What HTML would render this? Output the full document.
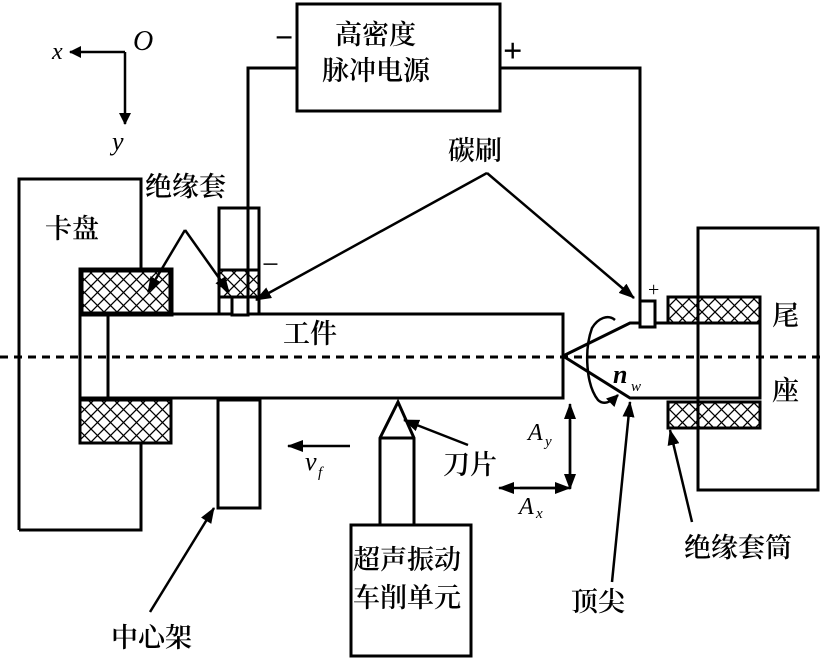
<!DOCTYPE html>
<html><head><meta charset="utf-8"><style>
body{margin:0;background:#fff}
svg text{font-family:"Liberation Serif","Noto Serif CJK SC","Noto Sans CJK SC",serif;fill:#000}
.c{font-size:27px;font-family:"Noto Serif CJK SC","WenQuanYi Zen Hei",serif;font-weight:600}
</style></head><body>
<svg width="820" height="662" viewBox="0 0 820 662" xmlns="http://www.w3.org/2000/svg">
<defs>
<pattern id="h" width="13" height="13" patternUnits="userSpaceOnUse">
<path d="M0 0L13 13M13 0L0 13" stroke="#000" stroke-width="1.3"/>
</pattern>
<marker id="a" markerWidth="12" markerHeight="12" refX="11" refY="6" orient="auto" markerUnits="userSpaceOnUse" viewBox="0 0 12 12">
<path d="M0 0L12 6L0 12z" fill="#000"/></marker>
<marker id="b" markerWidth="16" markerHeight="12" refX="15" refY="6" orient="auto" markerUnits="userSpaceOnUse" viewBox="0 0 16 12">
<path d="M0 0L16 6L0 12z" fill="#000"/></marker>
</defs>
<g fill="none" stroke="#000" stroke-width="3">
<path d="M19 530V179H141V268M141 443V530H19"/>
<rect x="81" y="270" width="90" height="44" fill="url(#h)" stroke-width="5"/>
<rect x="80" y="400" width="91" height="43" fill="url(#h)"/>
<path d="M171 314H563V398H80V314M108 314V398"/>
<path d="M219 314V208H259V314"/>
<rect x="219" y="270" width="40" height="27" fill="url(#h)"/>
<rect x="232" y="297" width="16" height="18" fill="#fff"/>
<rect x="218" y="400" width="42" height="108"/>
<path d="M248 297V68H297M500 68H640V301"/>
<rect x="297" y="4" width="203" height="107"/>
<rect x="698" y="228" width="120" height="262"/>
<rect x="668" y="297" width="92" height="26" fill="url(#h)"/>
<rect x="668" y="402" width="92" height="26" fill="url(#h)"/>
<path d="M563 356L630 323H760M563 356L630 398H698V323M760 323V398H698"/>
<rect x="640" y="301" width="15" height="26" fill="#fff"/>
<path d="M380 525V438L398 402L414 438V525M380 438H414"/>
<rect x="351" y="525" width="120" height="131"/>
</g>
<path d="M0 357H820" stroke="#000" stroke-width="3" stroke-dasharray="8,6"/>
<g fill="none" stroke="#000" stroke-width="2.5">
<path d="M125 52H70" marker-end="url(#a)"/>
<path d="M125 52V124" marker-end="url(#a)"/>
<path d="M185 230L148 292" marker-end="url(#b)"/>
<path d="M185 230L229 292" marker-end="url(#b)"/>
<path d="M487 173L256 300" marker-end="url(#b)"/>
<path d="M487 173L634 298" marker-end="url(#b)"/>
<path d="M468 445L404 420" marker-end="url(#b)"/>
<path d="M350 446H288" marker-end="url(#b)"/>
<path d="M570 488V404" marker-end="url(#b)"/>
<path d="M570 420V489" marker-end="url(#b)"/>
<path d="M560 488H499" marker-end="url(#b)"/>
<path d="M520 488H570" marker-end="url(#b)"/>
<path d="M150 612L214 508" marker-end="url(#b)"/>
<path d="M612 582L630 402" marker-end="url(#b)"/>
<path d="M692 522L670 430" marker-end="url(#b)"/>
<path d="M615 320C608 314 598 318 592 328C584 350 586 385 598 400C603 405 610 403 618 395" marker-end="url(#a)"/>
</g>
<text x="52" y="59" font-size="24" font-style="italic">x</text>
<text x="133" y="50" font-size="28" font-style="italic">O</text>
<text x="112" y="150" font-size="26" font-style="italic">y</text>
<text x="275" y="48" font-size="32" font-weight="bold">−</text>
<text x="503" y="62" font-size="34" font-weight="bold">+</text>
<text x="335" y="44" class="c">高密度</text>
<text x="322" y="80" class="c">脉冲电源</text>
<text x="448" y="160" class="c">碳刷</text>
<text x="145" y="196" class="c">绝缘套</text>
<text x="45" y="238" class="c">卡盘</text>
<text x="262" y="274" font-size="30">−</text>
<text x="648" y="296" font-size="20">+</text>
<text x="283" y="343" class="c">工件</text>
<text x="772" y="325" class="c">尾</text>
<text x="772" y="400" class="c">座</text>
<text x="613" y="383" font-size="26" font-style="italic" font-weight="bold">n</text>
<text x="631" y="391" font-size="15" font-style="italic">w</text>
<text x="305" y="470" font-size="26" font-style="italic">v</text>
<text x="318" y="477" font-size="15" font-style="italic">f</text>
<text x="443" y="474" class="c">刀片</text>
<text x="528" y="440" font-size="24" font-style="italic">A</text>
<text x="545" y="446" font-size="15" font-style="italic">y</text>
<text x="519" y="514" font-size="24" font-style="italic">A</text>
<text x="536" y="518" font-size="15" font-style="italic">x</text>
<text x="353" y="569" class="c">超声振动</text>
<text x="353" y="607" class="c">车削单元</text>
<text x="684" y="557" class="c">绝缘套筒</text>
<text x="571" y="611" class="c">顶尖</text>
<text x="111" y="647" class="c">中心架</text>
</svg>
</body></html>
